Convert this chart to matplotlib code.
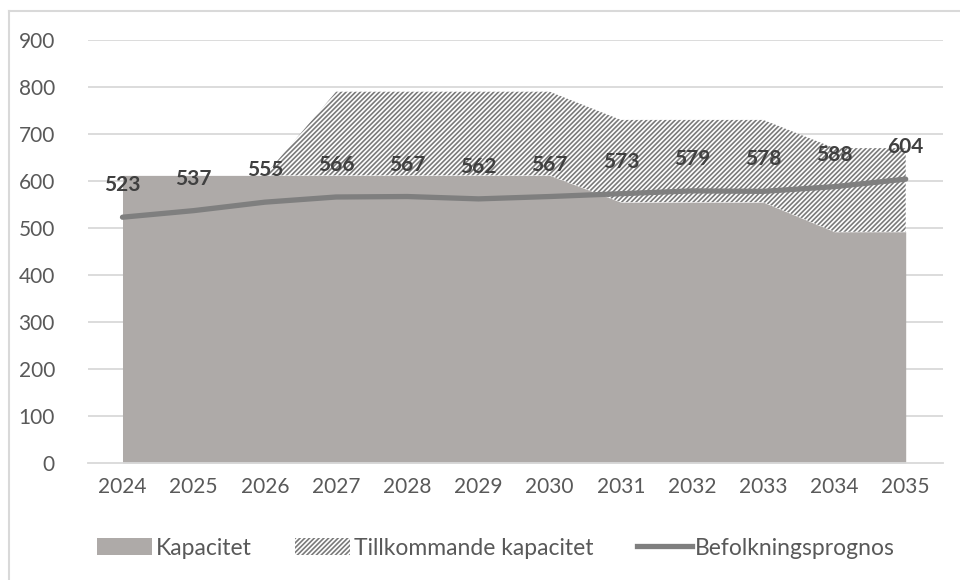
import matplotlib.pyplot as plt
from matplotlib.lines import Line2D
from matplotlib.patches import Patch

plt.rcParams['font.family'] = ['Lato', 'DejaVu Sans']
plt.rcParams['hatch.linewidth'] = 1.2
plt.rcParams['hatch.color'] = '#7a7a7a'

years = ['2024', '2025', '2026', '2027', '2028', '2029',
         '2030', '2031', '2032', '2033', '2034', '2035']
kapacitet = [612, 612, 612, 612, 612, 612, 612, 555, 555, 555, 492, 492]
tillkommande = [0, 0, 0, 178, 178, 178, 178, 175, 175, 175, 178, 178]
befolkning = [523, 537, 555, 566, 567, 562, 567, 573, 579, 578, 588, 604]

x = list(range(len(years)))
total = [k + t for k, t in zip(kapacitet, tillkommande)]
HATCH = '///////'

fig = plt.figure(figsize=(9.6, 5.8), dpi=100)
ax = fig.add_axes([0.092, 0.2017, 0.890, 0.7293])

# grid first so the areas sit on top
for v in range(100, 1000, 100):
    ax.axhline(v, color='#d9d9d9', lw=1.3, zorder=0)

ax.fill_between(x, 0, kapacitet, color='#aeaaa8', lw=0, zorder=1)
ax.fill_between(x, kapacitet, total, facecolor='white', edgecolor='#7a7a7a',
                hatch=HATCH, lw=0, zorder=2)
ax.plot(x, befolkning, color='#7f7f7f', lw=3.8, solid_capstyle='round', zorder=3)

for xi, v in zip(x, befolkning):
    ax.annotate(str(v), (xi, v), xytext=(0, 23), textcoords='offset points',
                ha='center', va='center', fontsize=15, fontweight='bold',
                color='#404040', zorder=4)

ax.set_xlim(-0.48, len(years) - 1 + 0.52)
ax.set_ylim(0, 900)
ax.set_yticks(range(0, 1000, 100))
ax.set_xticks(x)
ax.set_xticklabels(years)
ax.tick_params(length=0, labelsize=15, colors='#595959', pad=10)
ax.tick_params(axis='y', pad=24)
for s in ['top', 'right', 'left']:
    ax.spines[s].set_visible(False)
ax.spines['bottom'].set_color('#d9d9d9')
ax.spines['bottom'].set_linewidth(1.3)
ax.spines['bottom'].set_zorder(5)

handles = [
    Patch(facecolor='#aeaaa8', edgecolor='none'),
    Patch(facecolor='white', edgecolor='#7a7a7a', hatch=HATCH, lw=0),
    Line2D([0], [0], color='#7f7f7f', lw=3.8),
]
labels = ['Kapacitet', 'Tillkommande kapacitet', 'Befolkningsprognos']
fig.legend(handles, labels, loc='center', bbox_to_anchor=(0.517, 0.055),
           ncol=3, frameon=False, fontsize=16.5, handlelength=2.4,
           handleheight=0.75, handletextpad=0.15, columnspacing=1.9,
           labelcolor='#595959')

# chart frame
fig.add_artist(Line2D([0.009, 0.009], [0, 0.981], color='#d9d9d9', lw=1.5,
                      transform=fig.transFigure))
fig.add_artist(Line2D([0.009, 1.0], [0.981, 0.981], color='#d9d9d9', lw=1.5,
                      transform=fig.transFigure))

fig.savefig('out.png', dpi=100)
